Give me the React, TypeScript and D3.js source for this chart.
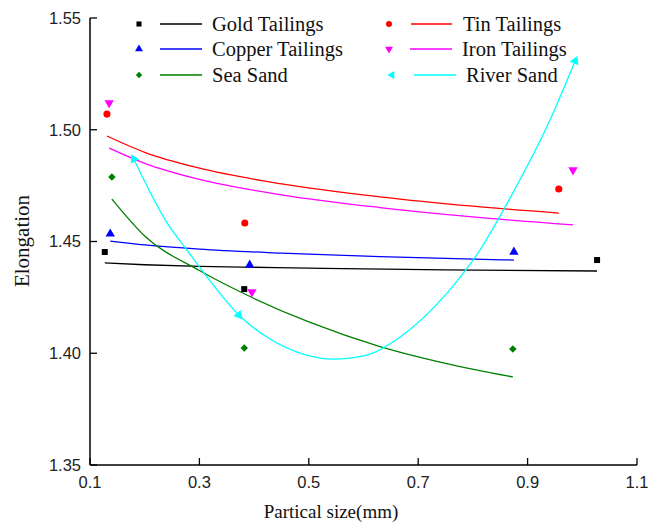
import React from 'react';
import * as d3 from 'd3';

// axis ticks
const xTicks = [0.1, 0.3, 0.5, 0.7, 0.9, 1.1];
const yTicks = [1.35, 1.4, 1.45, 1.5, 1.55];

// measured points (x = particle size mm, y = elongation)
const goldX = [0.127, 0.382, 1.027];
const goldY = [1.4453, 1.4287, 1.4417];
const tinX = [0.131, 0.383, 0.957];
const tinY = [1.507, 1.4583, 1.4735];
const copperX = [0.137, 0.392, 0.875];
const copperY = [1.4534, 1.4395, 1.4453];
const ironX = [0.135, 0.396, 0.983];
const ironY = [1.512, 1.4274, 1.482];
const seaX = [0.14, 0.382, 0.873];
const seaY = [1.4789, 1.4023, 1.4019];
const riverX = [0.18, 0.372, 0.987];
const riverY = [1.4869, 1.4171, 1.5308];

// fitted curves
const goldFit: [number, number][] = [[0.127, 1.4404], [0.2, 1.4396], [0.3, 1.4389], [0.5, 1.4381], [0.75, 1.4373], [1.027, 1.4368]];
const tinFit: [number, number][] = [[0.131, 1.4972], [0.2, 1.4899], [0.3, 1.4828], [0.45, 1.4758], [0.63, 1.47], [0.8, 1.4658], [0.957, 1.4627]];
const copperFit: [number, number][] = [[0.137, 1.4502], [0.2, 1.4485], [0.3, 1.4466], [0.45, 1.4448], [0.63, 1.4432], [0.875, 1.4417]];
const ironFit: [number, number][] = [[0.135, 1.4918], [0.2, 1.485], [0.3, 1.4778], [0.45, 1.4709], [0.63, 1.4652], [0.8, 1.461], [0.983, 1.4574]];
const seaFit: [number, number][] = [[0.14, 1.469], [0.2, 1.4525], [0.3, 1.437], [0.4, 1.4245], [0.5, 1.414], [0.63, 1.403], [0.75, 1.3955], [0.873, 1.3894]];
const riverFit: [number, number][] = [[0.18, 1.4869], [0.241, 1.4583], [0.277, 1.4462], [0.314, 1.4341], [0.372, 1.4171], [0.429, 1.4064], [0.484, 1.4001], [0.544, 1.3974], [0.606, 1.3992], [0.667, 1.4073], [0.753, 1.427], [0.813, 1.4462], [0.873, 1.4717], [0.935, 1.5012], [0.987, 1.5308]];

const W = 663, H = 524;
const left = 90, right = 637, top = 18, bottom = 465;

const x = d3.scaleLinear().domain([0.1, 1.1]).range([left, right]);
const y = d3.scaleLinear().domain([1.35, 1.55]).range([bottom, top]);

const line = d3.line<[number, number]>()
  .x(d => x(d[0]))
  .y(d => y(d[1]))
  .curve(d3.curveMonotoneX);

const sym = (type: d3.SymbolType, size: number) => d3.symbol().type(type).size(size)() as string;

const series = [
  { name: 'Gold Tailings', color: '#000000', xs: goldX, ys: goldY, fit: goldFit, shape: sym(d3.symbolSquare, 36), rot: 0 },
  { name: 'Copper Tailings', color: '#0000ff', xs: copperX, ys: copperY, fit: copperFit, shape: sym(d3.symbolTriangle, 38), rot: 0 },
  { name: 'Sea Sand', color: '#008000', xs: seaX, ys: seaY, fit: seaFit, shape: sym(d3.symbolSquare, 28), rot: 45 },
  { name: 'Tin Tailings', color: '#ff0000', xs: tinX, ys: tinY, fit: tinFit, shape: sym(d3.symbolCircle, 40), rot: 0 },
  { name: 'Iron Tailings', color: '#ff00ff', xs: ironX, ys: ironY, fit: ironFit, shape: sym(d3.symbolTriangle, 38), rot: 180 },
  { name: 'River Sand', color: '#00ffff', xs: riverX, ys: riverY, fit: riverFit, shape: sym(d3.symbolTriangle, 38), rot: -90 },
];

// orientation of River Sand markers follows the curve
function riverAngle(i: number) {
  const px = x(riverX[i]), py = y(riverY[i]);
  const k = riverFit.findIndex(p => Math.abs(p[0] - riverX[i]) < 1e-6);
  const n = i === 0 ? riverFit[k + 1] : riverFit[k - 1];
  const ax = px - x(n[0]), ay = py - y(n[1]);
  return Math.atan2(ay, ax) * 180 / Math.PI + 90;
}

const legendPos = [
  { mx: 139, lx1: 160, lx2: 202, tx: 212, y: 24 },
  { mx: 139, lx1: 160, lx2: 202, tx: 212, y: 49 },
  { mx: 139, lx1: 160, lx2: 202, tx: 212, y: 75 },
  { mx: 389, lx1: 411, lx2: 452, tx: 463, y: 24 },
  { mx: 389, lx1: 410, lx2: 452, tx: 462, y: 49 },
  { mx: 392, lx1: 414, lx2: 456, tx: 466, y: 75 },
];

const serif = '"Liberation Serif", "Times New Roman", serif';
const sans = '"Liberation Sans", Arial, sans-serif';

export default function App() {
  return (
    <svg width={W} height={H} style={{ position: 'absolute', left: 0, top: 0, background: '#fff' }}>
      {/* fit lines */}
      {series.map(s => (
        <path key={s.name + 'fit'} d={line(s.fit) as string} fill="none" stroke={s.color} strokeWidth={1.3} />
      ))}
      {/* markers */}
      {series.map(s => s.xs.map((v, i) => (
        <path key={s.name + i} d={s.shape} fill={s.color}
          transform={`translate(${x(v)},${y(s.ys[i])}) rotate(${s.name === 'River Sand' ? riverAngle(i) : s.rot})`} />
      )))}
      {/* axes */}
      <line x1={left} x2={left} y1={top} y2={bottom} stroke="#000" strokeWidth={1.5} />
      <line x1={left} x2={right} y1={bottom} y2={bottom} stroke="#000" strokeWidth={1.5} />
      {yTicks.map(t => (
        <g key={'y' + t}>
          <line x1={left} x2={left + 7} y1={y(t)} y2={y(t)} stroke="#000" strokeWidth={1.3} />
          <text x={left - 9} y={y(t)} dy="0.35em" textAnchor="end" fontFamily={sans} fontSize={16.5} fill="#222">{t.toFixed(2)}</text>
        </g>
      ))}
      {xTicks.map(t => (
        <g key={'x' + t}>
          <line x1={x(t)} x2={x(t)} y1={bottom} y2={bottom - 7} stroke="#000" strokeWidth={1.3} />
          <text x={x(t)} y={488} textAnchor="middle" fontFamily={sans} fontSize={16.5} fill="#222">{t.toFixed(1)}</text>
        </g>
      ))}
      <text x={331} y={518} textAnchor="middle" fontFamily={serif} fontSize={19} fill="#111">Partical size(mm)</text>
      <text transform="translate(29,241) rotate(-90)" textAnchor="middle" fontFamily={serif} fontSize={21} fill="#111">Elongation</text>
      {/* legend */}
      {series.map((s, i) => {
        const p = legendPos[i];
        return (
          <g key={s.name + 'leg'}>
            <path d={s.shape} fill={s.color} transform={`translate(${p.mx},${p.y}) rotate(${s.rot}) scale(0.85)`} />
            <line x1={p.lx1} x2={p.lx2} y1={p.y} y2={p.y} stroke={s.color} strokeWidth={1.3} />
            <text x={p.tx} y={p.y} dy="0.33em" fontFamily={serif} fontSize={20.5} fill="#111">{s.name}</text>
          </g>
        );
      })}
    </svg>
  );
}
